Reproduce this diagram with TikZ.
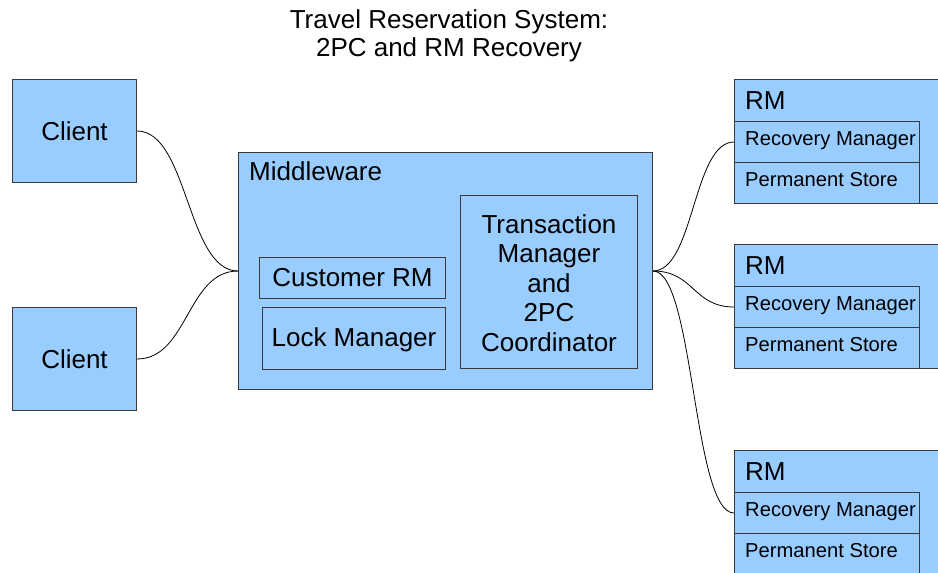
\documentclass[tikz,border=0pt]{standalone}
\usepackage{fontspec}
\setmainfont{Liberation Sans}
\definecolor{boxfill}{HTML}{99CCFF}
\definecolor{boxline}{HTML}{3A3A3A}
\begin{document}
\begin{tikzpicture}[x=1pt,y=-1pt,
  box/.style={draw=boxline,fill=boxfill,line width=1pt,rectangle,anchor=north west,inner sep=0pt},
  bigtext/.style={font=\fontsize{26}{29.5}\selectfont,inner sep=0pt},
  smalltext/.style={font=\fontsize{20.2}{24}\selectfont,inner sep=0pt,anchor=base west},
  conn/.style={draw=black,line width=0.8pt}]
\useasboundingbox (0,0) rectangle (938,573);
\clip (0,0) rectangle (938,573);

% title
\node[bigtext,anchor=base] (title1) at (449,28) {Travel Reservation System:};
\node[bigtext,anchor=base] (title2) at (449,56) {2PC and RM Recovery};

% clients
\node[box,minimum width=124pt,minimum height=103pt] (c1) at (12,79) {};
\node[bigtext] (c1t) at (c1.center) {Client};
\node[box,minimum width=124pt,minimum height=103pt] (c2) at (12,307) {};
\node[bigtext] (c2t) at (c2.center) {Client};

% middleware and its parts
\node[box,minimum width=414pt,minimum height=237pt] (mw) at (238,152) {};
\node[bigtext,anchor=base west] (mwt) at (249,180) {Middleware};
\node[box,minimum width=186pt,minimum height=41pt] (crm) at (259,257) {};
\node[bigtext] (crmt) at (crm.center) {Customer RM};
\node[box,minimum width=183pt,minimum height=62pt] (lock) at (262,307) {};
\node[bigtext] (lockt) at ([yshift=-1.5pt]lock.center) {Lock Manager};
\node[box,minimum width=177pt,minimum height=173pt] (tm) at (460,195) {};
\node[bigtext,align=center] (tmt) at ([yshift=-1pt]tm.center) {Transaction\\Manager\\and\\2PC\\Coordinator};

% resource managers
\foreach \i/\y in {1/79,2/244,3/450}{
  \node[box,minimum width=260pt,minimum height=124pt] (rm\i) at (734,\y) {};
  \node[bigtext,anchor=base west] (rm\i t) at (745,\y+30) {RM};
  \node[box,minimum width=185pt,minimum height=41pt] (rec\i) at (734,\y+42) {};
  \node[smalltext] (rec\i t) at (745,\y+66) {Recovery Manager};
  \node[box,minimum width=185pt,minimum height=41pt] (perm\i) at (734,\y+83) {};
  \node[smalltext] (perm\i t) at (745,\y+107) {Permanent Store};
}

% connectors
\draw[conn] (c1.east) .. controls +(51,0) and +(-51,0) .. (mw.west);
\draw[conn] (c2.east) .. controls +(51,0) and +(-51,0) .. (mw.west);
\foreach \i in {1,2,3}{
  \draw[conn] (mw.east) .. controls +(41,0) and +(-41,0) .. (rec\i.west);
}
\end{tikzpicture}
\end{document}
